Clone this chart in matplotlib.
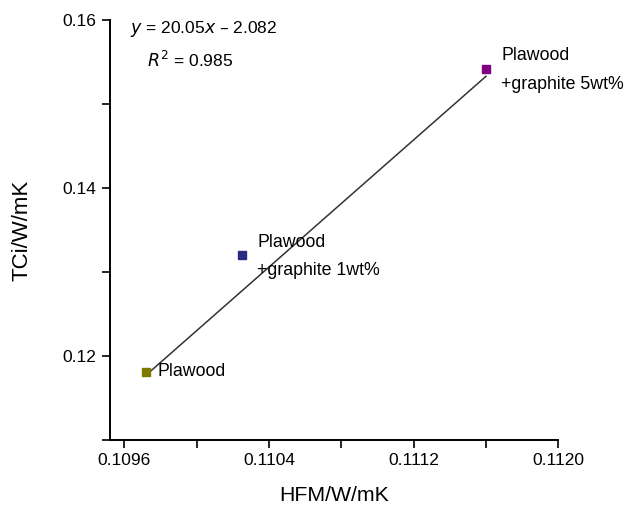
import numpy as np
import matplotlib
matplotlib.use("Agg")
import matplotlib.pyplot as plt
from matplotlib.ticker import MultipleLocator

plt.rcParams['font.family'] = ['Liberation Sans', 'DejaVu Sans']

hfm = [0.10972, 0.11025, 0.11160]
tci = [0.1181, 0.1320, 0.1542]
colors = ['#7a7a00', '#2a2a80', '#800080']
labels = ['Plawood', 'Plawood\n+graphite 1wt%', 'Plawood\n+graphite 5wt%']

# trend line as drawn in the chart
fit_x = [0.10974, 0.11160]
fit_y = [0.1181, 0.1533]

fig = plt.figure(figsize=(6.28, 5.09), dpi=100)
ax = fig.add_axes([0.175, 0.1356, 0.714, 0.825])

ax.plot(fit_x, fit_y, color='#333333', lw=1.1, zorder=1)

for x, y, c in zip(hfm, tci, colors):
    ax.plot(x, y, 's', color=c, ms=6, zorder=2)

ax.annotate(labels[0], (hfm[0], tci[0]), xytext=(8, 0), textcoords='offset points',
            fontsize=12.8, va='center', ha='left')
ax.annotate(labels[1], (hfm[1], tci[1]), xytext=(11, -1), textcoords='offset points',
            fontsize=12.8, va='center', ha='left', linespacing=1.9)
ax.annotate(labels[2], (hfm[2], tci[2]), xytext=(11, -1), textcoords='offset points',
            fontsize=12.8, va='center', ha='left', linespacing=1.9)

ax.text(0.045, 0.979, r'$y$ = 20.05$x$ – 2.082', transform=ax.transAxes,
        fontsize=12.5, va='center', ha='left')
ax.text(0.083, 0.905, r'$R^2$ = 0.985', transform=ax.transAxes,
        fontsize=12.5, va='center', ha='left')

ax.set_xlim(0.10952, 0.1120)
ax.set_ylim(0.11, 0.16)
ax.set_xticks([0.1096, 0.1104, 0.1112, 0.1120])
ax.set_xticklabels(['0.1096', '0.1104', '0.1112', '0.1120'])
ax.set_yticks([0.12, 0.14, 0.16])
ax.set_yticklabels(['0.12', '0.14', '0.16'])
ax.xaxis.set_minor_locator(MultipleLocator(0.0004))
ax.yaxis.set_minor_locator(MultipleLocator(0.01))

for s in ['top', 'right']:
    ax.spines[s].set_visible(False)
for s in ['left', 'bottom']:
    ax.spines[s].set_linewidth(1.4)
ax.tick_params(which='both', direction='out', length=6, width=1.2, labelsize=12.5)

ax.set_xlabel('HFM/W/mK', fontsize=15.3, labelpad=13)
ax.set_ylabel('TCi/W/mK', fontsize=16, labelpad=22)

plt.savefig('out.png', dpi=100)
